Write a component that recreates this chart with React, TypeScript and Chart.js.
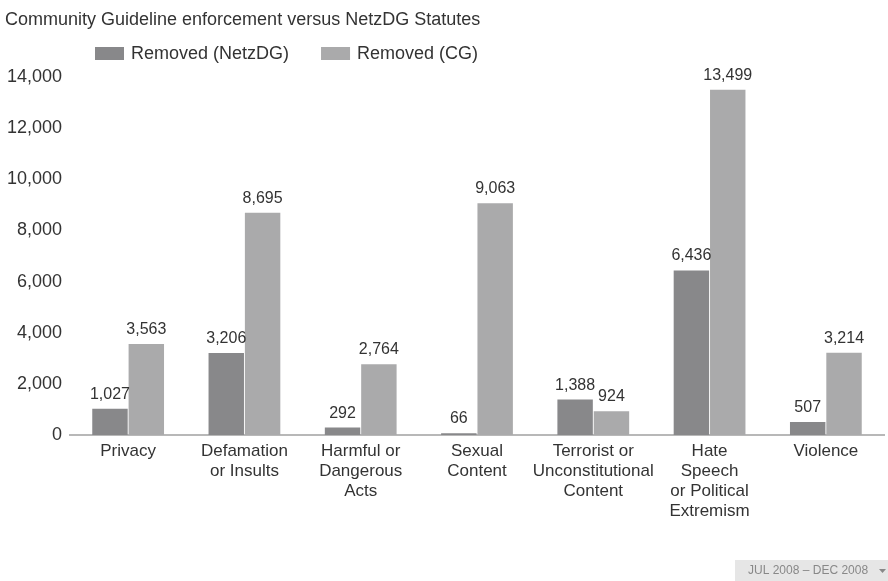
import React, { useEffect, useRef } from "react";
import { Chart, registerables } from "chart.js";

Chart.register(...registerables);

const titleText = "Community Guideline enforcement versus NetzDG Statutes";
const categories: string[][] = [
  ["Privacy"],
  ["Defamation", "or Insults"],
  ["Harmful or", "Dangerous", "Acts"],
  ["Sexual", "Content"],
  ["Terrorist or", "Unconstitutional", "Content"],
  ["Hate", "Speech", "or Political", "Extremism"],
  ["Violence"],
];
const seriesNames = ["Removed (NetzDG)", "Removed (CG)"];
const removedNetzDG = [1027, 3206, 292, 66, 1388, 6436, 507];
const removedCG = [3563, 8695, 2764, 9063, 924, 13499, 3214];
const yTicks = [0, 2000, 4000, 6000, 8000, 10000, 12000, 14000];
const footerText = "JUL 2008 – DEC 2008";

const colors = ["#88888a", "#aaaaab"];
const FONT = "'Liberation Sans', Arial, Helvetica, sans-serif";

const fmt = (v: number) => v.toLocaleString("en-US");

const overlayPlugin = {
  id: "overlay",
  afterDatasetsDraw(chart: any) {
    const ctx = chart.ctx;
    ctx.save();
    ctx.fillStyle = "#333";
    ctx.font = `16px ${FONT}`;
    ctx.textAlign = "center";
    ctx.textBaseline = "alphabetic";
    chart.data.datasets.forEach((ds: any, i: number) => {
      const meta = chart.getDatasetMeta(i);
      meta.data.forEach((bar: any, j: number) => {
        ctx.fillText(fmt(ds.data[j]), bar.x, bar.y - 10);
      });
    });
    ctx.restore();
  },
  afterDraw(chart: any) {
    const ctx = chart.ctx;
    ctx.save();
    // title
    ctx.fillStyle = "#333";
    ctx.font = `18px ${FONT}`;
    ctx.textAlign = "left";
    ctx.textBaseline = "alphabetic";
    ctx.fillText(titleText, 5, 25);
    // legend
    ctx.font = `18px ${FONT}`;
    let x = 95;
    seriesNames.forEach((name, i) => {
      ctx.fillStyle = colors[i];
      ctx.fillRect(x, 47, 29, 13);
      ctx.fillStyle = "#333";
      ctx.fillText(name, x + 36, 59);
      x = x + 36 + ctx.measureText(name).width + 32;
    });
    // footer box
    ctx.fillStyle = "#e6e6e6";
    ctx.fillRect(735, 560, 153, 21);
    ctx.fillStyle = "#888";
    ctx.font = `12px ${FONT}`;
    ctx.textBaseline = "middle";
    ctx.fillText(footerText, 748, 571);
    ctx.beginPath();
    ctx.moveTo(879, 569);
    ctx.lineTo(886, 569);
    ctx.lineTo(882.5, 573);
    ctx.closePath();
    ctx.fill();
    ctx.restore();
  },
};

export default function App() {
  const ref = useRef<HTMLCanvasElement>(null);
  useEffect(() => {
    if (!ref.current) return;
    const chart = new Chart(ref.current, {
      type: "bar",
      data: {
        labels: categories,
        datasets: [
          { label: seriesNames[0], data: removedNetzDG, backgroundColor: colors[0] },
          { label: seriesNames[1], data: removedCG, backgroundColor: colors[1] },
        ],
      },
      options: {
        animation: false,
        responsive: false,
        events: [],
        layout: { padding: { top: 77, right: 4, left: 0, bottom: 0 } },
        plugins: {
          legend: { display: false },
          title: { display: false },
          tooltip: { enabled: false },
        },
        datasets: {
          bar: { categoryPercentage: 0.625, barPercentage: 0.975 },
        },
        scales: {
          x: {
            grid: { display: false, drawTicks: false },
            border: { display: true, color: "#b8b8b8", width: 2 },
            ticks: {
              color: "#333",
              font: { family: FONT, size: 17, lineHeight: 1.18 },
              padding: 6,
              maxRotation: 0,
              autoSkip: false,
            },
            afterFit(scale: any) {
              scale.height = 146;
            },
          },
          y: {
            min: 0,
            max: 14000,
            afterBuildTicks(scale: any) {
              scale.ticks = yTicks.map((v) => ({ value: v }));
            },
            grid: { display: false, drawTicks: false },
            border: { display: false },
            ticks: {
              color: "#333",
              font: { family: FONT, size: 18 },
              padding: 8,
              callback: (v: any) => fmt(Number(v)),
            },
            afterFit(scale: any) {
              scale.width = 70;
            },
          },
        },
      },
      plugins: [overlayPlugin],
    });
    return () => chart.destroy();
  }, []);
  return (
    <div style={{ position: "absolute", left: 0, top: 0, width: 888, height: 581, background: "#fff" }}>
      <canvas ref={ref} width={888} height={581} style={{ width: 888, height: 581, display: "block" }} />
    </div>
  );
}
